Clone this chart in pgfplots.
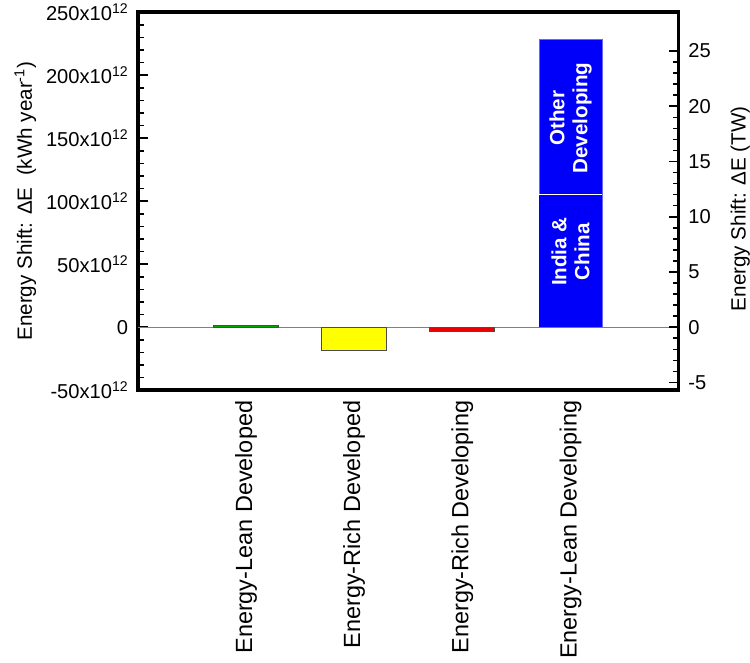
\documentclass[border=0pt]{standalone}
\usepackage{fontspec}
\setmainfont{Liberation Sans}
\usepackage{pgfplots}
\pgfplotsset{compat=1.18}

\definecolor{barblue}{RGB}{0,0,250}
\definecolor{bargreen}{RGB}{0,165,0}
\definecolor{baryellow}{RGB}{255,255,0}
\definecolor{barred}{RGB}{235,0,0}

\pgfplotsset{
  common/.style={
    scale only axis, width=538pt, height=376pt,
    xmin=0, xmax=5,
    axis line style={line width=3.5pt},
    tick style={line width=1.6pt, black},
    major tick length=10pt, minor tick length=6pt,
    tick align=inside,
    tick label style={font=\fontsize{20}{22}\selectfont},
  }
}

\begin{document}
\begin{tikzpicture}
% left axis: energy shift per year, in units of 10^12 kWh
\begin{axis}[common,
  ymin=-50, ymax=250,
  ytick={-50,0,50,100,150,200,250},
  minor y tick num=4,
  yticklabels={-50x10\textsuperscript{12},0,50x10\textsuperscript{12},100x10\textsuperscript{12},150x10\textsuperscript{12},200x10\textsuperscript{12},250x10\textsuperscript{12}},
  ytick pos=left,
  yticklabel shift=6pt,
  xtick={1,2,3,4},
  xticklabels={Energy-Lean Developed,Energy-Rich Developed,Energy-Rich Developing,Energy-Lean Developing},
  xtick style={draw=none},
  x tick label style={rotate=90, anchor=east, font=\fontsize{23.3}{26}\selectfont},
  xticklabel shift=7pt,
  every axis y label/.style={at={(axis description cs:-0.208,0.5)}, rotate=90, anchor=center, inner sep=0pt, font=\fontsize{20.5}{23}\selectfont},
  ylabel={Energy Shift: ΔE\ \ (kWh year\textsuperscript{-1})},
]
% zero reference line
\addplot[gray, line width=1pt] coordinates {(0,0) (5,0)};
% single-region bars
\addplot[ybar, bar width=0.6, bar shift=0pt, fill=bargreen, draw=black!70, line width=0.8pt] coordinates {(1,1.8)};
\addplot[ybar, bar width=0.6, bar shift=0pt, fill=baryellow, draw=black!70, line width=0.8pt] coordinates {(2,-18.5)};
\addplot[ybar, bar width=0.6, bar shift=0pt, fill=barred, draw=black!70, line width=0.8pt] coordinates {(3,-3.4)};
% energy-lean developing: total, with India & China as the lower part
\addplot[ybar, bar width=0.58, bar shift=0pt, fill=barblue, draw=blue!60!white, line width=0.6pt] coordinates {(4,228.5)};
\addplot[ybar, bar width=0.58, bar shift=0pt, fill=barblue, draw=none] coordinates {(4,105.5)};
\addplot[white, line width=1.5pt] coordinates {(3.71,105.5) (4.29,105.5)};
\node[rotate=90, text=white, align=center, font=\bfseries\fontsize{20.5}{23}\selectfont] at (axis cs:4,60) {India \&\\China};
\node[rotate=90, text=white, align=center, font=\bfseries\fontsize{20.5}{23}\selectfont] at (axis cs:4,166) {Other\\Developing};
\end{axis}
% right axis: the same shift as a continuous power, in TW
\begin{axis}[common,
  ymin=-5.7039, ymax=28.519,
  axis y line*=right, axis x line=none,
  ytick={-5,0,5,10,15,20,25},
  minor y tick num=4,
  yticklabels={-5,0,5,10,15,20,25},
  yticklabel shift=6pt,
  every axis y label/.style={at={(axis description cs:1.114,0.48)}, rotate=90, anchor=center, inner sep=0pt, font=\fontsize{20.5}{23}\selectfont},
  ylabel={Energy Shift: ΔE (TW)},
]
\end{axis}
% white margin to the left of the left-hand label
\path (current axis.south west) ++(-137pt,0pt);
\end{tikzpicture}
\end{document}
